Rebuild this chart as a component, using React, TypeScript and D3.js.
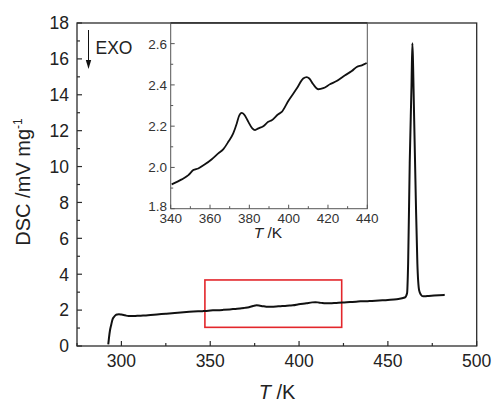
import React from "react";
import * as d3 from "d3";

// ---- Data ----
const tempK: number[] = [
  292.6, 293.0, 293.6, 294.3, 294.9, 295.8, 296.8, 297.7, 298.6, 300, 302, 304, 307, 310, 315, 320, 325, 330, 335,
  340.5, 345.6, 349, 351.5, 354, 357.4, 360.9, 364.2, 366.8, 369.3, 371.8, 373.6, 374.7, 376.1, 377.4, 379.5, 381.5,
  382.9, 384.6, 387.1, 389.6, 391.4, 394.7, 396.5, 399.8, 404.1, 407.4, 409.2, 410.5, 412.5, 415.1, 417.6, 421,
  424.4, 428.7, 432.1, 434.6, 437.2, 439.7, 445, 450, 455, 459.5, 460.8, 461.4, 462.3, 463.3, 463.8, 464.2, 464.6,
  465.7, 466.6, 467.6, 468.6, 469.8, 472, 476, 482,
];
const dsc: number[] = [
  0.09, 0.45, 0.89, 1.2, 1.45, 1.62, 1.73, 1.76, 1.77, 1.75, 1.71, 1.67, 1.67, 1.69, 1.72, 1.76, 1.8, 1.84, 1.88,
  1.918, 1.942, 1.963, 1.987, 1.995, 2.015, 2.04, 2.068, 2.089, 2.124, 2.165, 2.213, 2.248, 2.264, 2.256, 2.221, 2.189,
  2.181, 2.189, 2.2, 2.221, 2.229, 2.258, 2.269, 2.322, 2.382, 2.431, 2.438, 2.431, 2.403, 2.379, 2.384, 2.403,
  2.419, 2.447, 2.467, 2.487, 2.495, 2.506, 2.54, 2.57, 2.61, 2.7, 2.94, 4.6, 10.2, 14.5, 16.87, 15.6, 13.6,
  8.3, 4.6, 3.1, 2.86, 2.77, 2.78, 2.81, 2.85,
];
const mainXTicks = [300, 350, 400, 450, 500];
const mainYTicks = [0, 2, 4, 6, 8, 10, 12, 14, 16, 18];
const insetXTicks = [340, 360, 380, 400, 420, 440];
const insetYTicks = [1.8, 2.0, 2.2, 2.4, 2.6];
const zoomBoxT = [347, 424];
const zoomBoxD = [1.04, 3.68];

const W = 493;
const H = 402;
const FONT = "Arial, 'Liberation Sans', sans-serif";

export default function App() {
  const data = tempK.map((t, i) => ({ t, d: dsc[i] }));
  const x = d3.scaleLinear().domain([275, 500]).range([77, 476.7]);
  const y = d3.scaleLinear().domain([0, 18]).range([346, 23]);
  const ix = d3.scaleLinear().domain([340, 440]).range([170.7, 367.3]);
  const iy = d3.scaleLinear().domain([1.8, 2.7]).range([208.7, 23]);

  const line = d3
    .line<{ t: number; d: number }>()
    .x((p) => x(p.t))
    .y((p) => y(p.d))
    .curve(d3.curveMonotoneX);
  const insetData = data.filter((p) => p.t >= 340 && p.t <= 440);
  const iline = d3
    .line<{ t: number; d: number }>()
    .x((p) => ix(p.t))
    .y((p) => iy(p.d))
    .curve(d3.curveMonotoneX);

  const xMinor = d3.range(275, 501, 25).filter((v) => !mainXTicks.includes(v));
  const yMinor = d3.range(1, 18, 2);
  const ixMinor = d3.range(350, 440, 20);
  const iyMinor = [1.9, 2.1, 2.3, 2.5];

  const ax = "#2b2b2b";
  const iax = "#555";

  return (
    <svg width={W} height={H} style={{ position: "absolute", left: 0, top: 0, background: "#fff" }} fontFamily={FONT}>
      {/* main frame */}
      <rect x={x(275)} y={y(18)} width={x(500) - x(275)} height={y(0) - y(18)} fill="none" stroke={ax} strokeWidth={1.3} />
      {/* main x ticks */}
      {mainXTicks.map((v) => (
        <g key={"mx" + v}>
          <line x1={x(v)} x2={x(v)} y1={y(0)} y2={y(0) - 5} stroke={ax} strokeWidth={1.2} />
          <text x={x(v)} y={367} textAnchor="middle" fontSize={17.5} fill="#222">
            {v}
          </text>
        </g>
      ))}
      {xMinor.map((v) => (
        <line key={"mxm" + v} x1={x(v)} x2={x(v)} y1={y(0)} y2={y(0) - 3} stroke={ax} strokeWidth={1.2} />
      ))}
      {mainYTicks.map((v) => (
        <g key={"my" + v}>
          <line x1={x(275)} x2={x(275) + 5} y1={y(v)} y2={y(v)} stroke={ax} strokeWidth={1.2} />
          <text x={69} y={y(v) + 6.3} textAnchor="end" fontSize={17.5} fill="#222">
            {v}
          </text>
        </g>
      ))}
      {yMinor.map((v) => (
        <line key={"mym" + v} x1={x(275)} x2={x(275) + 3} y1={y(v)} y2={y(v)} stroke={ax} strokeWidth={1.2} />
      ))}
      {/* axis titles */}
      <text x={277} y={399} textAnchor="middle" fontSize={20} fill="#222">
        <tspan fontStyle="italic">T</tspan> /K
      </text>
      <text transform="translate(30,182) rotate(-90)" textAnchor="middle" fontSize={20} fill="#222">
        DSC /mV mg<tspan dy={-8} fontSize={12}>-1</tspan>
      </text>
      {/* EXO */}
      <line x1={88.5} x2={88.5} y1={30} y2={62} stroke="#111" strokeWidth={1} />
      <path d="M85.8,60 L91.2,60 L88.5,69 Z" fill="#111" />
      <text x={95.5} y={54.3} fontSize={17.5} fill="#222">
        EXO
      </text>
      {/* red box */}
      <rect
        x={x(zoomBoxT[0])}
        y={y(zoomBoxD[1])}
        width={x(zoomBoxT[1]) - x(zoomBoxT[0])}
        height={y(zoomBoxD[0]) - y(zoomBoxD[1])}
        fill="none"
        stroke="#e3262b"
        strokeWidth={1.6}
      />
      {/* main curve */}
      <path d={line(data) || ""} fill="none" stroke="#111" strokeWidth={2} strokeLinejoin="round" />

      {/* inset */}
      <rect x={ix(340)} y={iy(2.7)} width={ix(440) - ix(340)} height={iy(1.8) - iy(2.7)} fill="#fff" stroke={iax} strokeWidth={1} />
      <line x1={ix(340)} x2={ix(440)} y1={23} y2={23} stroke={ax} strokeWidth={1.3} />
      {insetXTicks.map((v) => (
        <g key={"ix" + v}>
          <line x1={ix(v)} x2={ix(v)} y1={iy(1.8)} y2={iy(1.8) - 4} stroke={iax} strokeWidth={1} />
          <text x={ix(v)} y={222.7} textAnchor="middle" fontSize={13.5} fill="#333">
            {v}
          </text>
        </g>
      ))}
      {ixMinor.map((v) => (
        <line key={"ixm" + v} x1={ix(v)} x2={ix(v)} y1={iy(1.8)} y2={iy(1.8) - 2.5} stroke={iax} strokeWidth={1} />
      ))}
      {insetYTicks.map((v) => (
        <g key={"iy" + v}>
          <line x1={ix(340)} x2={ix(340) + 4} y1={iy(v)} y2={iy(v)} stroke={iax} strokeWidth={1} />
          <text x={167} y={iy(v) + (v === 1.8 ? 2.5 : 5)} textAnchor="end" fontSize={13.5} fill="#333">
            {v.toFixed(1)}
          </text>
        </g>
      ))}
      {iyMinor.map((v) => (
        <line key={"iym" + v} x1={ix(340)} x2={ix(340) + 2.5} y1={iy(v)} y2={iy(v)} stroke={iax} strokeWidth={1} />
      ))}
      <text x={268} y={238} textAnchor="middle" fontSize={15.5} fill="#222">
        <tspan fontStyle="italic">T</tspan> /K
      </text>
      <path d={iline(insetData) || ""} fill="none" stroke="#111" strokeWidth={1.8} strokeLinejoin="round" />
    </svg>
  );
}
